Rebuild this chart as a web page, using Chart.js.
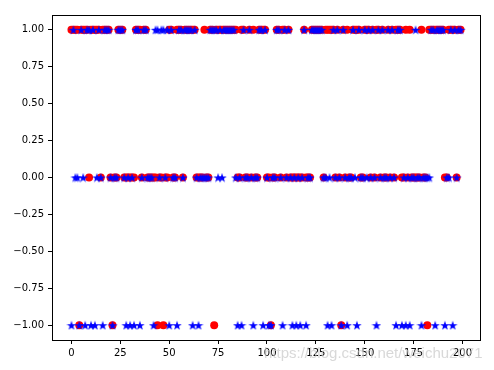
<!DOCTYPE html>
<html>
<head>
<meta charset="utf-8">
<script src="https://cdn.jsdelivr.net/npm/chart.js@4/dist/chart.umd.min.js"></script>
<style>
  body { margin: 0; background: #fff; }
  canvas { display: block; }
</style>
</head>
<body>
<canvas id="chart" width="494" height="370"></canvas>
<script>
// red circles: actual labels, blue stars: predicted labels
const actual = [
  1, 1, 1, 1, -1, 1, 1, 1, 1, 0, 1, 1, 1, 1, 1, 0, 1, 1, 1, 1,
  0, -1, 0, 0, 1, 1, 1, 0, 0, 0, 0, 0, 0, 1, 1, 1, 0, 1, 1, 0,
  0, 0, 0, 0, -1, 0, 0, -1, 0, 0, 1, 1, 0, 0, 1, 1, 1, 0, 1, 1,
  1, 1, 1, 1, 0, 0, 0, 0, 1, 0, 0, 1, 1, -1, 1, 1, 1, 1, 1, 1,
  1, 1, 1, 1, 1, 0, 0, 1, 1, 0, 0, 1, 0, 1, 0, 0, 1, 1, 1, 1,
  0, 0, -1, 0, 0, 1, 1, 0, 1, 1, 0, 1, 0, 0, 0, 0, 0, 0, 0, 1,
  0, 0, 0, 1, 1, 1, 1, 1, 1, 0, 1, 1, 1, 1, 1, 0, 1, 0, -1, 1,
  0, 1, 0, 0, 1, 1, 1, 1, 0, 0, 1, 1, 1, 0, 1, 0, 1, 1, 0, 1,
  0, 0, 1, 0, 1, 0, 1, 1, 1, 0, 0, 1, 0, 1, 0, 0, 0, 0, 0, 1,
  0, 0, -1, 1, 1, 1, 1, 1, 1, 1, 1, 0, 0, 1, 1, 1, 1, 0, 1, 1
];

const predicted = [
  -1, 1, 0, 0, -1, 1, 0, -1, 1, 1, -1, 1, -1, 0, 1, 0, -1, 1, 1, 1,
  0, -1, 0, 0, 1, 1, 1, 0, -1, 0, -1, 0, -1, 1, 1, -1, 0, 1, 1, 0,
  0, 0, -1, 1, 1, 0, 1, 1, 0, 1, -1, 1, 0, 0, -1, 1, 1, 0, 1, 1,
  1, 1, -1, 1, 0, -1, 0, 0, 0, 0, 0, 1, 1, 1, 1, 0, 1, 0, 1, 1,
  1, 1, 1, 1, 0, -1, 0, -1, 1, 0, 0, 1, 0, -1, 0, 0, 1, 1, -1, 1,
  0, -1, -1, 0, 0, 1, 1, 0, -1, 1, 0, 1, 0, -1, 0, -1, 0, -1, 0, 1,
  -1, 0, 0, 1, 1, 1, 1, 1, 1, 0, 0, -1, 0, -1, 1, 0, 1, 0, -1, 1,
  0, -1, 0, 0, 1, 0, -1, 1, 0, 0, 1, 0, 1, 0, 1, 0, -1, 1, 0, 1,
  0, 0, 1, 0, 1, 0, -1, 1, 1, -1, 0, -1, 0, -1, 0, 0, 1, 0, 0, -1,
  0, 0, 0, 0, 1, 1, -1, 1, 1, 1, 1, -1, 0, 0, 1, -1, 1, 0, 1, 1
];

const xTicks = [0, 25, 50, 75, 100, 125, 150, 175, 200];
const yTicks = [-1, -0.75, -0.5, -0.25, 0, 0.25, 0.5, 0.75, 1];

// matplotlib-like filled 5 point star
function makeStar(size, color) {
  const c = document.createElement("canvas");
  c.width = size;
  c.height = size;
  const g = c.getContext("2d");
  const outer = size / 2;
  const inner = outer * 0.382;
  g.beginPath();
  for (let i = 0; i < 10; i++) {
    const r = i % 2 === 0 ? outer : inner;
    const a = -Math.PI / 2 + (i * Math.PI) / 5;
    const px = size / 2 + r * Math.cos(a);
    const py = size / 2 + 0.5 + r * Math.sin(a);
    if (i === 0) g.moveTo(px, py);
    else g.lineTo(px, py);
  }
  g.closePath();
  g.fillStyle = color;
  g.fill();
  return c;
}

const starImg = makeStar(10, "#0000ff");

const framePlugin = {
  id: "frame",
  afterDraw(chart) {
    const { ctx, chartArea: a } = chart;
    ctx.save();
    ctx.strokeStyle = "#000";
    ctx.lineWidth = 1;
    ctx.strokeRect(Math.round(a.left) + 0.5, Math.round(a.top) + 0.5,
      Math.round(a.right - a.left), Math.round(a.bottom - a.top));
    // faint watermark
    ctx.font = "15px 'Liberation Sans'";
    ctx.fillStyle = "rgba(200,200,200,0.7)";
    ctx.textBaseline = "alphabetic";
    ctx.fillText("https://blog.csdn.net/weichu2071", 264, 358);
    ctx.restore();
  },
};

const tickFont = { family: "'DejaVu Sans'", size: 10 };

new Chart(document.getElementById("chart"), {
  type: "scatter",
  data: {
    datasets: [
      {
        label: "predicted",
        data: predicted.map((v, i) => ({ x: i, y: v })),
        pointStyle: starImg,
        order: 0,
      },
      {
        label: "actual",
        data: actual.map((v, i) => ({ x: i, y: v })),
        pointStyle: "circle",
        pointRadius: 4,
        pointBackgroundColor: "#ff0000",
        pointBorderWidth: 0,
        borderColor: "#ff0000",
        order: 1,
      },
    ],
  },
  options: {
    responsive: false,
    animation: false,
    devicePixelRatio: 1,
    layout: { padding: { top: 15, right: 14, left: 0, bottom: 0 } },
    plugins: {
      legend: { display: false },
      tooltip: { enabled: false },
    },
    scales: {
      x: {
        type: "linear",
        min: -9.95,
        max: 208.95,
        afterBuildTicks: (scale) => {
          scale.ticks = xTicks.map((v) => ({ value: v }));
        },
        afterFit: (scale) => {
          scale.height = 30;
        },
        border: { display: false },
        grid: {
          drawOnChartArea: false,
          drawTicks: true,
          tickLength: 4,
          color: "#000",
        },
        ticks: {
          color: "#000",
          font: tickFont,
          padding: 3,
          maxRotation: 0,
          callback: (v) => String(v),
        },
      },
      y: {
        type: "linear",
        min: -1.1,
        max: 1.1,
        afterBuildTicks: (scale) => {
          scale.ticks = yTicks.map((v) => ({ value: v }));
        },
        afterFit: (scale) => {
          scale.width = 52;
        },
        border: { display: false },
        grid: {
          drawOnChartArea: false,
          drawTicks: true,
          tickLength: 4,
          color: "#000",
        },
        ticks: {
          color: "#000",
          font: tickFont,
          padding: 4,
          callback: (v) => v.toFixed(2).replace("-", "\u2212"),
        },
      },
    },
  },
  plugins: [framePlugin],
});
</script>
</body>
</html>
